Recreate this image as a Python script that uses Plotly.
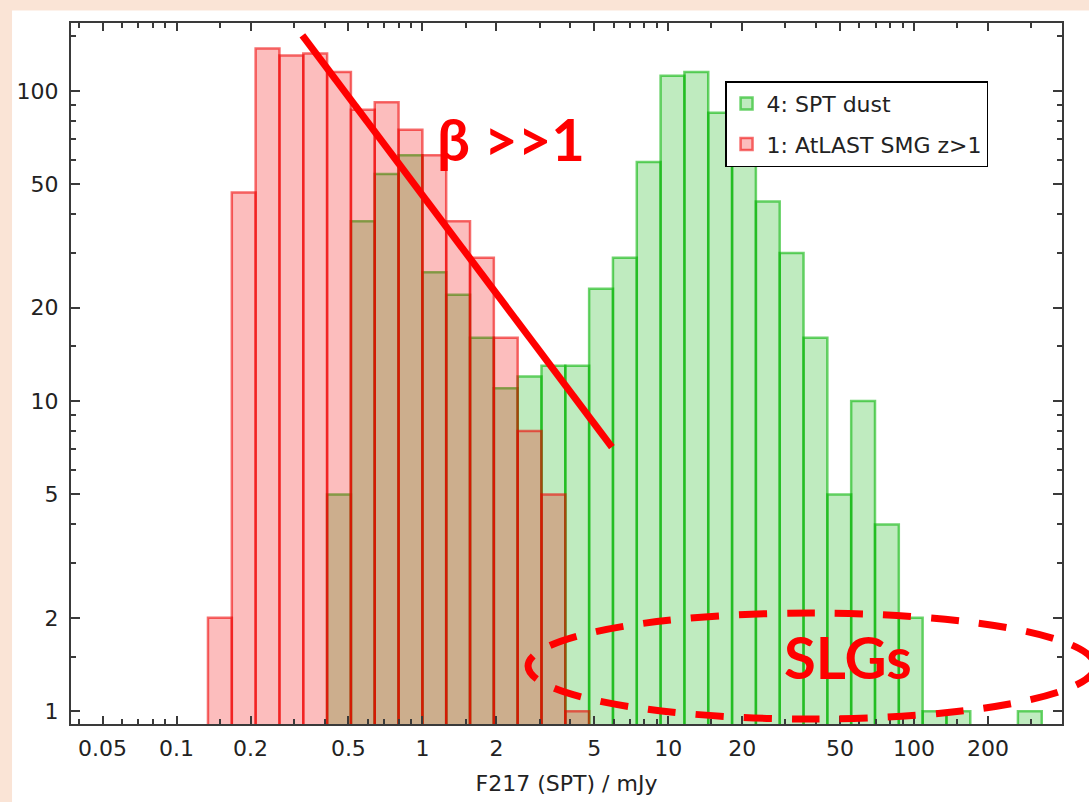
import numpy as np
import plotly.graph_objects as go

# log-spaced bins: bin k covers [1.25**k, 1.25**(k+1)] mJy
BIN_FACTOR = 1.25

# 4: SPT dust, counts per bin starting at bin index spt_first_bin
spt_first_bin = -4
spt_counts = [5, 38, 54, 62, 26, 22, 16, 11, 12, 13, 13, 23, 29, 59, 112, 115, 85, 70,
              44, 30, 16, 5, 10, 4, 2, 1, 1, 0, 0, 1]

# 1: AtLAST SMG z>1
smg_first_bin = -9
smg_counts = [2, 47, 137, 130, 132, 115, 87, 92, 75, 62, 38, 29, 16, 8, 5, 1]

# axis ticks
x_tickvals = [0.05, 0.1, 0.2, 0.5, 1, 2, 5, 10, 20, 50, 100, 200]
x_ticktext = ["0.05", "0.1", "0.2", "0.5", "1", "2", "5", "10", "20", "50", "100", "200"]
x_minor = [0.04, 0.06, 0.07, 0.08, 0.09, 0.15, 0.3, 0.4, 0.6, 0.7, 0.8, 0.9, 1.5, 3, 4,
           6, 7, 8, 9, 15, 30, 40, 60, 70, 80, 90, 150, 300]
y_tickvals = [1, 2, 5, 10, 20, 50, 100]
y_minor = [1.5, 3, 4, 6, 7, 8, 9, 15, 30, 40, 60, 70, 80, 90, 150]
x_range = [0.0372, 400]
y_range = [0.909, 165.6]

# hand-drawn overlays
beta_line_x = [0.325, 5.9]
beta_line_y = [151, 7.1]

RED = "#ff0000"
AXIS_COL = "#3a3a3a"
FONT = "DejaVu Sans"


def bar_geometry(first_bin, counts):
    k = np.arange(first_bin, first_bin + len(counts))
    lo = BIN_FACTOR ** k
    hi = BIN_FACTOR ** (k + 1)
    c = np.array(counts, dtype=float)
    keep = c > 0
    return ((lo + hi) / 2)[keep], (hi - lo)[keep], c[keep]


fig = go.Figure()

x, w, c = bar_geometry(spt_first_bin, spt_counts)
fig.add_trace(go.Bar(
    x=x, y=c, width=w, name="4: SPT dust", legendgroup="spt",
    marker=dict(color="rgba(0,175,0,0.25)", line=dict(color="rgba(0,180,0,0.57)", width=2.5)),
))

x, w, c = bar_geometry(smg_first_bin, smg_counts)
fig.add_trace(go.Bar(
    x=x, y=c, width=w, name="1: AtLAST SMG z>1", legendgroup="smg",
    marker=dict(color="rgba(245,0,0,0.26)", line=dict(color="rgba(240,0,0,0.57)", width=2.5)),
))

fig.add_trace(go.Scatter(
    x=beta_line_x, y=beta_line_y, mode="lines", showlegend=False, hoverinfo="skip",
    line=dict(color=RED, width=7),
))

fig.update_layout(
    template="none",
    width=1089, height=802,
    margin=dict(l=71, r=27, t=23, b=78),
    paper_bgcolor="#fae4d6",
    plot_bgcolor="white",
    barmode="overlay",
    font=dict(family=FONT, size=22, color="#222"),
    showlegend=True,
    legend=dict(
        x=0.66, y=0.917, xanchor="left", yanchor="top",
        bgcolor="white", bordercolor="black", borderwidth=1.5,
        font=dict(family=FONT, size=22, color="#222"),
        traceorder="grouped", tracegroupgap=9,
    ),
    shapes=[
        # white page behind the chart, the peach strip shows on the left and top
        dict(type="rect", xref="paper", yref="paper", x0=-0.0595, x1=1.03, y0=-0.13, y1=1.018,
             fillcolor="white", line=dict(width=0), layer="below"),
        # dashed ellipse round the SLGs
        dict(type="circle", xref="paper", yref="paper", x0=0.4612, x1=1.0333, y0=0.0071, y1=0.1583,
             line=dict(color=RED, width=7, dash="28px,20px"), layer="above"),
    ],
    annotations=[
        dict(text="<b>β >>1</b>", xref="paper", yref="paper", x=0.444, y=0.835,
             xanchor="center", yanchor="middle",
             showarrow=False, font=dict(family="Lato", size=58, color=RED)),
        dict(text="<b>SLGs</b>", xref="paper", yref="paper", x=0.784, y=0.097,
             xanchor="center", yanchor="middle",
             showarrow=False, font=dict(family="Lato", size=58, color=RED)),
    ],
)

fig.update_xaxes(
    type="log", range=[np.log10(x_range[0]), np.log10(x_range[1])], automargin=False,
    tickvals=x_tickvals, ticktext=x_ticktext, ticklabelstandoff=4,
    ticks="inside", ticklen=8, tickwidth=1.5, tickcolor=AXIS_COL,
    minor=dict(tickvals=x_minor, ticks="inside", ticklen=5, tickwidth=1.5, tickcolor=AXIS_COL),
    showline=True, linecolor=AXIS_COL, linewidth=2, mirror="allticks",
    showgrid=False, zeroline=False,
    title=dict(text="F217 (SPT) / mJy", font=dict(family=FONT, size=22), standoff=15),
)
fig.update_yaxes(
    type="log", range=[np.log10(y_range[0]), np.log10(y_range[1])], automargin=False,
    tickvals=y_tickvals, ticktext=[str(v) for v in y_tickvals], ticklabelstandoff=6,
    ticks="inside", ticklen=9, tickwidth=1.5, tickcolor=AXIS_COL,
    minor=dict(tickvals=y_minor, ticks="inside", ticklen=5, tickwidth=1.5, tickcolor=AXIS_COL),
    showline=True, linecolor=AXIS_COL, linewidth=2, mirror="allticks",
    showgrid=False, zeroline=False,
)

# drop the browser's default page margin so the figure sits at the window's corner
fig.write_html("out.html", config={"displayModeBar": False},
               post_script="document.body.style.margin = '0';")
